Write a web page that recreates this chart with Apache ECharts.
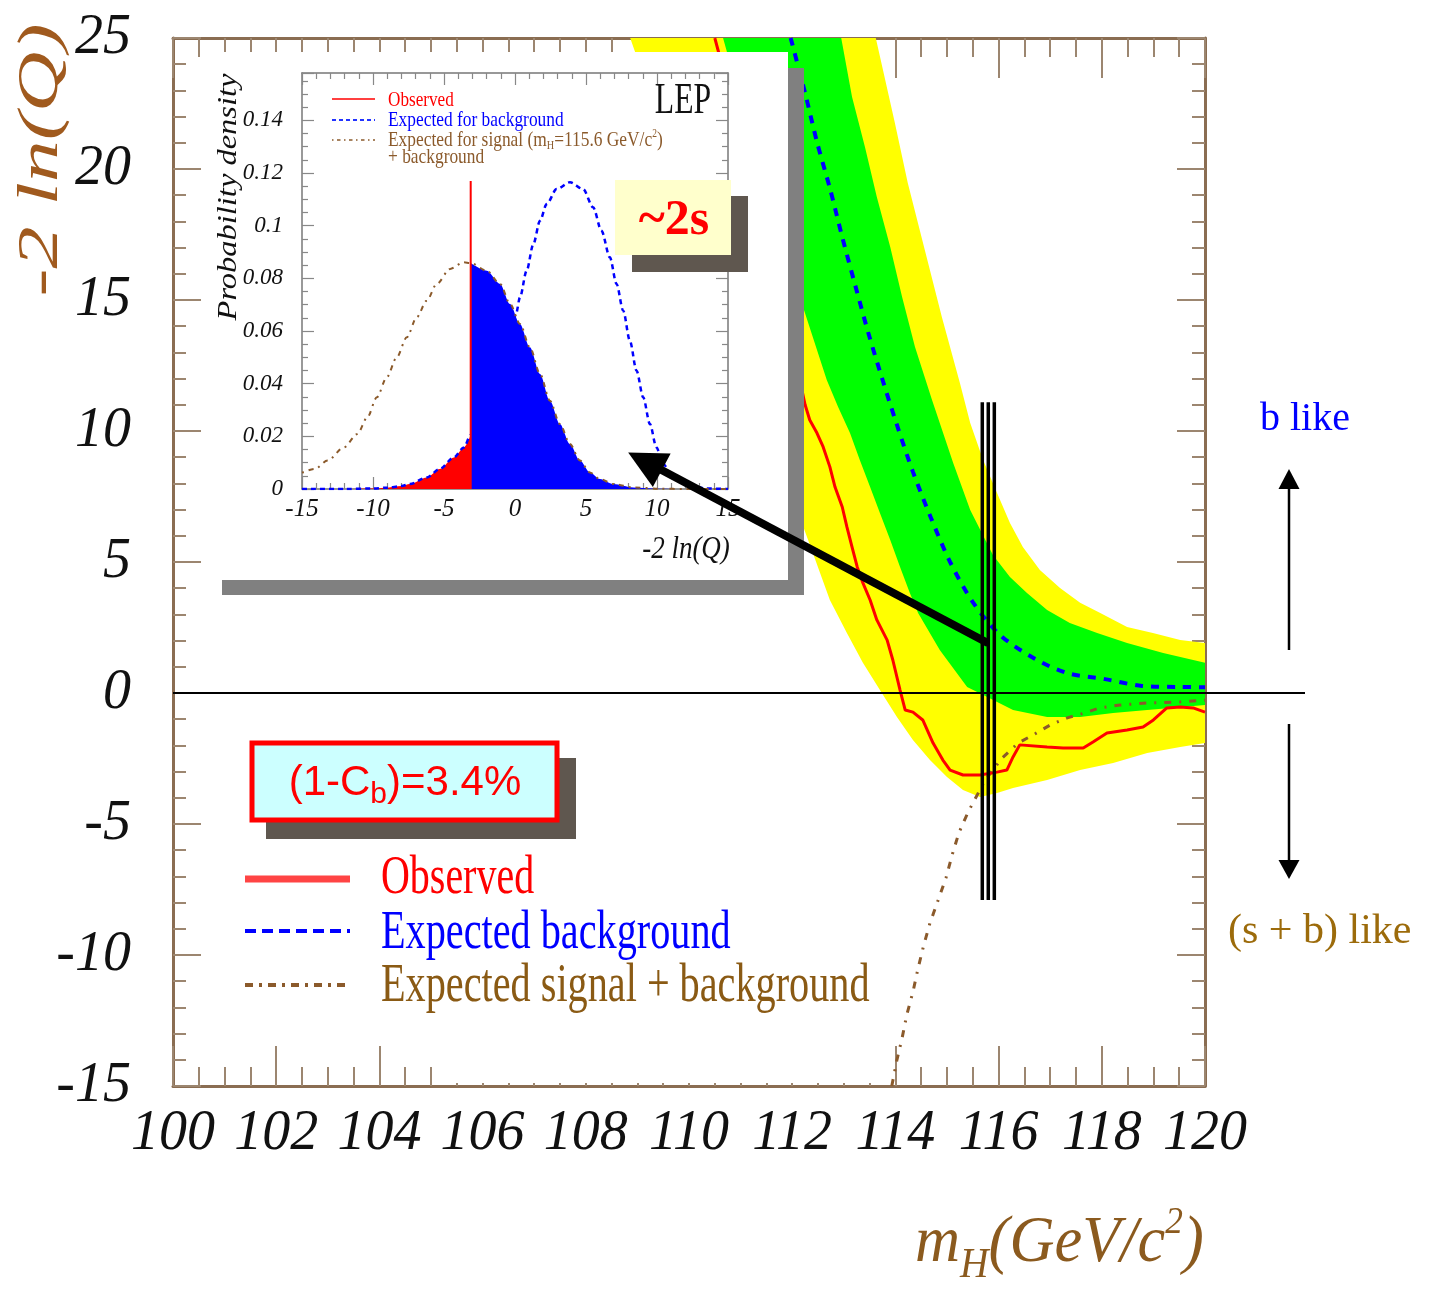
<!DOCTYPE html>
<html><head><meta charset="utf-8">
<script src="https://cdn.jsdelivr.net/npm/echarts@6/dist/echarts.min.js"></script>
<style>html,body{margin:0;padding:0;background:#fff}#c{width:1429px;height:1289px}</style>
</head><body><div id="c"></div>
<script>
// ---------------- data: main plot (-2 ln Q vs m_H) ----------------
const mainXTickLabels = ['100','102','104','106','108','110','112','114','116','118','120'];
const mainYTickLabels = ['-15','-10','-5','0','5','10','15','20','25'];

const observed = [[110.50,25.0],[111.0,21.3],[111.5,17.4],[112.0,13.3],[112.25,11.0],[112.34,10.42],[112.48,9.92],[112.60,9.39],[112.73,8.63],[112.83,7.86],[112.97,7.10],[113.06,6.34],[113.16,5.57],[113.26,4.81],[113.37,4.20],[113.51,3.55],[113.64,2.79],[113.84,2.02],[113.95,1.26],[114.09,0.11],[114.19,-0.65],[114.34,-0.73],[114.53,-1.03],[114.73,-1.91],[114.92,-2.56],[115.06,-2.94],[115.31,-3.13],[115.64,-3.13],[115.97,-3.02],[116.16,-2.94],[116.28,-2.44],[116.41,-1.98],[116.94,-2.06],[117.25,-2.10],[117.64,-2.10],[117.83,-1.87],[118.10,-1.53],[118.49,-1.41],[118.80,-1.30],[119.0,-1.03],[119.26,-0.57],[119.52,-0.53],[119.77,-0.57],[120.0,-0.73]];
const expectedBkg = [[111.97,25.0],[112.25,22.9],[112.48,21.03],[112.73,19.27],[112.97,17.4],[113.22,15.57],[113.47,13.78],[113.74,12.02],[114.03,10.23],[114.34,8.44],[114.69,6.68],[115.06,5.0],[115.50,3.47],[116.03,2.21],[116.71,1.30],[117.33,0.76],[118.06,0.53],[118.78,0.27],[119.52,0.23],[120.0,0.22]];
const expectedSigBkg = [[113.93,-15.0],[114.03,-14.0],[114.13,-13.17],[114.22,-12.29],[114.34,-11.41],[114.44,-10.50],[114.55,-9.62],[114.67,-8.78],[114.83,-7.90],[114.98,-7.06],[115.10,-6.18],[115.23,-5.34],[115.41,-4.54],[115.74,-3.32],[116.07,-2.48],[116.38,-1.91],[116.67,-1.60],[117.0,-1.22],[117.33,-0.95],[117.67,-0.76],[117.96,-0.57],[118.35,-0.46],[118.88,-0.38],[119.52,-0.34],[120.0,-0.27]];
const plus1Sigma = [[112.95,25.0],[113.16,22.75],[113.41,20.84],[113.64,18.93],[113.90,17.02],[114.13,15.11],[114.38,13.21],[114.71,11.18],[115.12,8.78],[115.45,6.98],[115.89,5.27],[116.22,4.43],[116.55,3.82],[116.94,3.17],[117.38,2.67],[117.91,2.29],[118.49,1.91],[119.19,1.53],[120.0,1.15]];
const minus1Sigma = [[110.66,25.0],[111.0,22.6],[111.5,19.1],[112.0,16.0],[112.67,11.95],[112.89,10.92],[113.12,9.92],[113.31,8.89],[113.51,7.86],[113.70,6.87],[113.90,5.84],[114.09,4.81],[114.28,3.82],[114.44,3.05],[114.86,1.64],[115.39,0.23],[115.78,-0.15],[116.28,-0.65],[116.94,-0.92],[117.58,-0.92],[118.22,-0.76],[118.88,-0.65],[120.0,-0.46]];
const plus2Sigma = [[113.62,25.0],[113.99,21.76],[114.24,19.47],[114.57,16.91],[114.90,14.35],[115.25,11.83],[115.45,10.31],[115.70,8.89],[115.97,7.63],[116.22,6.49],[116.47,5.57],[116.80,4.69],[117.19,4.01],[117.58,3.44],[117.97,3.05],[118.49,2.52],[118.99,2.29],[119.52,2.02],[120.0,1.91]];
const minus2Sigma = [[108.86,25.0],[110.0,18.6],[111.0,13.1],[112.0,7.5],[112.40,5.34],[112.73,3.55],[113.06,2.29],[113.37,1.15],[113.70,0.11],[114.03,-0.92],[114.34,-1.79],[114.67,-2.56],[115.0,-3.21],[115.31,-3.70],[115.64,-3.97],[115.97,-3.82],[116.28,-3.63],[116.94,-3.32],[117.58,-2.94],[118.22,-2.67],[118.88,-2.29],[119.52,-2.06],[120.0,-1.91]];
const markerMasses = [115.684, 115.80, 115.917];
const markerRange = [-7.9, 11.1];
const arrowFromMain = [115.80, 1.9];

// ---------------- data: inset (probability density vs -2 ln Q) ----------------
const insetXTickLabels = ['-15','-10','-5','0','5','10','15'];
const insetYTickLabels = ['0','0.02','0.04','0.06','0.08','0.1','0.12','0.14'];
const pdfBkg = [[-15,0],[-12,0],[-10,0.0002],[-9,0.0005],[-8,0.0011],[-7.4,0.0019],[-6.2,0.0044],[-5.3,0.0076],[-4.3,0.012],[-3.6,0.0158],[-3.12,0.0205],[-2.5,0.026],[-1.8,0.034],[-1,0.045],[-0.4,0.056],[0.07,0.0665],[0.35,0.0728],[0.82,0.0829],[1.29,0.093],[1.76,0.1019],[2.23,0.1082],[2.93,0.1139],[3.87,0.1165],[4.8,0.1139],[5.5,0.107],[6.09,0.0981],[6.68,0.088],[7.15,0.0779],[7.62,0.0677],[8.09,0.0563],[8.56,0.0449],[9.03,0.0348],[9.5,0.0247],[9.96,0.0158],[10.43,0.0095],[11.13,0.0044],[12.3,0.0013],[13.5,0.0002],[15,0]];
const pdfSigBkg = [[-15,0.0062],[-14.1,0.0076],[-13.2,0.0108],[-12.05,0.0158],[-11.1,0.0209],[-10.4,0.0272],[-9.73,0.0348],[-9.03,0.0424],[-8.33,0.05],[-7.62,0.0576],[-6.92,0.0652],[-6.22,0.0715],[-5.51,0.0779],[-4.57,0.0836],[-3.63,0.0861],[-3.12,0.0858],[-1.99,0.0829],[-1.05,0.0779],[-0.35,0.0703],[0.35,0.0627],[1.05,0.0538],[1.76,0.0437],[2.46,0.0335],[3.16,0.0247],[3.87,0.0171],[4.57,0.0108],[5.27,0.0063],[5.98,0.0038],[6.92,0.0019],[8.33,0.0006],[10.2,0.0001],[12,0],[15,0]];
const observedQ = -3.12;
const observedQTop = 0.117;
const arrowToInset = [7.97, 0.0139];

// ---------------- styling ----------------
const SERIF = "'Liberation Serif','DejaVu Serif',serif";
const SANS = "'Liberation Sans','DejaVu Sans',sans-serif";
const AXC = '#8a6d52', TKC = '#9c8670';
const BROWN = '#8b5a2b';

const chart = echarts.init(document.getElementById('c'), null, {renderer: 'canvas'});

function band(lo, hi, color, z) {
  const poly = lo.concat(hi.slice().reverse());
  return {
    type: 'custom', xAxisIndex: 0, yAxisIndex: 0, z: z, clip: true, silent: true,
    data: [[110, 0]],
    renderItem: function (params, api) {
      return {type: 'polygon', shape: {points: poly.map(function (p) { return api.coord(p); })}, style: {fill: color}};
    }
  };
}
function mainAxisX(pos, showLabel) {
  return {
    type: 'value', gridIndex: 0, position: pos, min: 100, max: 120, interval: 2,
    axisLine: {show: true, onZero: false, lineStyle: {color: AXC, width: 3}},
    axisTick: {show: true, inside: true, length: 40, lineStyle: {color: TKC, width: 2}},
    minorTick: {show: true, splitNumber: 4, length: 19, lineStyle: {color: TKC, width: 2}},
    splitLine: {show: false},
    axisLabel: {show: showLabel, margin: 20, color: '#111', fontSize: 56, fontStyle: 'italic', fontFamily: SERIF,
      formatter: function (v) { return mainXTickLabels[Math.round((v - 100) / 2)]; }}
  };
}
function mainAxisY(pos, showLabel) {
  return {
    type: 'value', gridIndex: 0, position: pos, min: -15, max: 25, interval: 5,
    axisLine: {show: true, onZero: false, lineStyle: {color: AXC, width: 3}},
    axisTick: {show: true, inside: true, length: 28, lineStyle: {color: TKC, width: 2}},
    minorTick: {show: true, splitNumber: 5, length: 13, lineStyle: {color: TKC, width: 2}},
    splitLine: {show: false},
    axisLabel: {show: showLabel, margin: 42, color: '#111', fontSize: 56, fontStyle: 'italic', fontFamily: SERIF,
      formatter: function (v) { return mainYTickLabels[Math.round((v + 15) / 5)]; }}
  };
}
function insetAxisX(pos, showLabel) {
  return {
    type: 'value', gridIndex: 1, position: pos, min: -15, max: 15, interval: 5, z: 20,
    axisLine: {show: true, onZero: false, lineStyle: {color: '#777', width: 1.5}},
    axisTick: {show: true, inside: true, length: 12, lineStyle: {color: '#888', width: 1.2}},
    minorTick: {show: true, splitNumber: 5, length: 6, lineStyle: {color: '#888', width: 1.2}},
    splitLine: {show: false},
    axisLabel: {show: showLabel, margin: 8, color: '#111', fontSize: 25, fontStyle: 'italic', fontFamily: SERIF,
      formatter: function (v) { return insetXTickLabels[Math.round((v + 15) / 5)]; }}
  };
}
function insetAxisY(pos, showLabel) {
  return {
    type: 'value', gridIndex: 1, position: pos, min: 0, max: 0.158, interval: 0.02, z: 20,
    axisLine: {show: true, onZero: false, lineStyle: {color: '#777', width: 1.5}},
    axisTick: {show: true, inside: true, length: 12, lineStyle: {color: '#888', width: 1.2}},
    minorTick: {show: true, splitNumber: 4, length: 6, lineStyle: {color: '#888', width: 1.2}},
    splitLine: {show: false},
    axisLabel: {show: showLabel, margin: 19, color: '#111', fontSize: 23, fontStyle: 'italic', fontFamily: SERIF, showMaxLabel: false,
      formatter: function (v) { const i = Math.round(v / 0.02); return (Math.abs(v - i * 0.02) < 1e-6) ? (insetYTickLabels[i] || '') : ''; }}
  };
}

const markerSeries = markerMasses.map(function (m) {
  return {type: 'line', xAxisIndex: 0, yAxisIndex: 0, z: 4, silent: true, symbol: 'none',
    data: [[m, markerRange[0]], [m, markerRange[1]]], lineStyle: {color: '#000', width: 3.5}};
});

const option = {
  animation: false,
  backgroundColor: '#fff',
  grid: [
    {left: 173, top: 38, width: 1032, height: 1048, show: false},
    {left: 302, top: 73, width: 426, height: 416, show: false, z: 20}
  ],
  xAxis: [mainAxisX('bottom', true), mainAxisX('top', false), insetAxisX('bottom', true), insetAxisX('top', false)],
  yAxis: [mainAxisY('left', true), mainAxisY('right', false), insetAxisY('left', true), insetAxisY('right', false)],
  series: [
    band(minus2Sigma, plus2Sigma, '#ffff00', 1),
    band(minus1Sigma, plus1Sigma, '#00ff00', 2),
    {type: 'line', name: 'Expected background', xAxisIndex: 0, yAxisIndex: 0, z: 3, symbol: 'none', data: expectedBkg, smooth: 0.3,
      lineStyle: {color: '#0000ff', width: 4, type: [8, 8]}},
    {type: 'line', name: 'Expected signal + background', xAxisIndex: 0, yAxisIndex: 0, z: 3, symbol: 'none', data: expectedSigBkg,
      lineStyle: {color: BROWN, width: 3, type: [7, 8, 2, 8]}},
    {type: 'line', name: 'Observed', xAxisIndex: 0, yAxisIndex: 0, z: 3, symbol: 'none', data: observed,
      lineStyle: {color: '#ff0000', width: 3}},
  ].concat(markerSeries).concat([
    // inset
    {type: 'line', xAxisIndex: 2, yAxisIndex: 2, z: 21, symbol: 'none', smooth: 0.3, smoothMonotone: 'x',
      data: pdfBkg.filter(function (p) { return p[0] <= observedQ; }),
      lineStyle: {width: 0}, areaStyle: {color: '#ff0000', opacity: 1, origin: 'start'}},
    {type: 'line', xAxisIndex: 2, yAxisIndex: 2, z: 21, symbol: 'none', smooth: 0.3, smoothMonotone: 'x',
      data: pdfSigBkg.filter(function (p) { return p[0] >= observedQ; }),
      lineStyle: {width: 0}, areaStyle: {color: '#0000ff', opacity: 1, origin: 'start'}},
    {type: 'line', xAxisIndex: 2, yAxisIndex: 2, z: 22, symbol: 'none', smooth: 0.3, smoothMonotone: 'x', data: pdfBkg,
      lineStyle: {color: '#0000ff', width: 2.5, type: [5, 4]}},
    {type: 'line', xAxisIndex: 2, yAxisIndex: 2, z: 22, symbol: 'none', smooth: 0.3, smoothMonotone: 'x', data: pdfSigBkg,
      lineStyle: {color: BROWN, width: 2, type: [2, 5, 5, 5]}},
    {type: 'line', xAxisIndex: 2, yAxisIndex: 2, z: 23, symbol: 'none', data: [[observedQ, 0], [observedQ, observedQTop]],
      lineStyle: {color: '#ff0000', width: 2}}
  ])
};
chart.setOption(option);

// ---------- annotations (positions derived from the axes) ----------
const P = function (pt) { return chart.convertToPixel({xAxisIndex: 0, yAxisIndex: 0}, pt); };
const Q = function (pt) { return chart.convertToPixel({xAxisIndex: 2, yAxisIndex: 2}, pt); };
const zeroL = P([100, 0]), zeroR = P([120, 0]);
const a0 = P(arrowFromMain), a1 = Q(arrowToInset);
const dx = a1[0] - a0[0], dy = a1[1] - a0[1], len = Math.sqrt(dx * dx + dy * dy);
const ux = dx / len, uy = dy / len, headL = 38, headW = 19;
const bx = a1[0] - ux * headL, by = a1[1] - uy * headL;

function txt(x, y, text, font, fill, opts) {
  opts = opts || {};
  return Object.assign({
    type: 'text', x: x, y: y, z: opts.z || 30,
    style: {text: text, font: font, fill: fill, align: opts.align || 'left', verticalAlign: 'middle',
      textAlign: opts.align || 'left', textVerticalAlign: 'middle', rich: opts.rich}
  }, opts.el || {});
}

const graphics = [
  // zero line across plot and beyond
  {type: 'line', z: 5, shape: {x1: zeroL[0], y1: zeroL[1], x2: zeroR[0] + 100, y2: zeroR[1]}, style: {stroke: '#000', lineWidth: 2}},
  // gap in bottom ticks (text box)
  {type: 'rect', z: 9, shape: {x: 433, y: 1040, width: 447, height: 43}, style: {fill: '#fff'}},
  // inset panel & shadow
  {type: 'rect', z: 10, shape: {x: 222, y: 68, width: 582, height: 527}, style: {fill: '#808080'}},
  {type: 'rect', z: 11, shape: {x: 206, y: 52, width: 582, height: 528}, style: {fill: '#fff'}},
  // ~2s box
  {type: 'rect', z: 30, shape: {x: 632, y: 196, width: 116, height: 76}, style: {fill: '#5f574f'}},
  {type: 'rect', z: 31, shape: {x: 615, y: 180, width: 116, height: 75}, style: {fill: '#ffffcc'}},
  txt(674, 221, '~2s', 'bold 50px ' + SERIF, '#ff0000', {align: 'center', z: 32}),
  // (1-Cb) box
  {type: 'rect', z: 30, shape: {x: 266, y: 758, width: 310, height: 81}, style: {fill: '#5f574f'}},
  {type: 'rect', z: 31, shape: {x: 252, y: 743, width: 305, height: 77}, style: {fill: '#ccffff', stroke: '#ff0000', lineWidth: 5}},
  txt(405, 783, '(1-C{sub|b})=3.4%', '42px ' + SANS, '#ff0000', {align: 'center', z: 32,
    rich: {sub: {fontSize: 30, fontFamily: SANS, fill: '#ff0000', color: '#ff0000', padding: [24, 0, 0, 0]}}}),
  // main legend
  {type: 'line', z: 30, shape: {x1: 245, y1: 879, x2: 350, y2: 879}, style: {stroke: '#ff4444', lineWidth: 7}},
  {type: 'line', z: 30, shape: {x1: 245, y1: 931, x2: 350, y2: 931}, style: {stroke: '#0000ff', lineWidth: 4, lineDash: [11, 6]}},
  {type: 'line', z: 30, shape: {x1: 245, y1: 985, x2: 350, y2: 985}, style: {stroke: BROWN, lineWidth: 4, lineDash: [8, 6, 3, 6]}},
  txt(381, 879, 'Observed', '54px ' + SERIF, '#ff0000', {el: {scaleX: 0.74}}),
  txt(381, 934, 'Expected background', '54px ' + SERIF, '#0000ff', {el: {scaleX: 0.745}}),
  txt(381, 987, 'Expected signal + background', '54px ' + SERIF, '#8a5a14', {el: {scaleX: 0.745}}),
  // right side annotations
  txt(1260, 419, 'b like', '40px ' + SERIF, '#0000ff'),
  txt(1228, 932, '(s + b) like', '42px ' + SERIF, '#9c6b0b'),
  {type: 'line', z: 30, shape: {x1: 1289, y1: 650, x2: 1289, y2: 486}, style: {stroke: '#000', lineWidth: 2.5}},
  {type: 'polygon', z: 30, shape: {points: [[1289, 469], [1278.5, 489], [1299.5, 489]]}, style: {fill: '#000'}},
  {type: 'line', z: 30, shape: {x1: 1289, y1: 724, x2: 1289, y2: 862}, style: {stroke: '#000', lineWidth: 2.5}},
  {type: 'polygon', z: 30, shape: {points: [[1289, 879], [1278.5, 860], [1299.5, 860]]}, style: {fill: '#000'}},
  // axis titles
  txt(42, 160, '-2 ln(Q)', 'italic 56px ' + SERIF, '#a05a1e', {align: 'center', el: {rotation: Math.PI / 2, scaleX: 1.5}}),
  txt(915, 1244, 'm{sub|H}(GeV/c{sup|2})', 'italic 60px ' + SERIF, '#8b5a1e', {el: {scaleX: 1.04, scaleY: 1.1},
    rich: {sub: {fontSize: 38, fontStyle: 'italic', fontFamily: SERIF, fill: '#8b5a1e', color: '#8b5a1e', padding: [40, 0, 0, 0]},
           sup: {fontSize: 34, fontStyle: 'italic', fontFamily: SERIF, fill: '#8b5a1e', color: '#8b5a1e', padding: [0, 0, 38, 0]}}}),
  // inset texts
  txt(229, 197, 'Probability density', 'italic 28px ' + SERIF, '#111', {align: 'center', z: 26, el: {rotation: Math.PI / 2, scaleX: 1.16}}),
  txt(686, 549, '-2 ln(Q)', 'italic 27px ' + SERIF, '#111', {align: 'center', z: 26, el: {scaleY: 1.2}}),
  txt(683, 101, 'LEP', '44px ' + SERIF, '#111', {align: 'center', z: 26, el: {scaleX: 0.72}}),
  {type: 'line', z: 26, shape: {x1: 332, y1: 99, x2: 375, y2: 99}, style: {stroke: '#ff0000', lineWidth: 1.5}},
  {type: 'line', z: 26, shape: {x1: 332, y1: 120, x2: 375, y2: 120}, style: {stroke: '#2233ff', lineWidth: 2, lineDash: [4, 3]}},
  {type: 'line', z: 26, shape: {x1: 332, y1: 140, x2: 375, y2: 140}, style: {stroke: BROWN, lineWidth: 1.5, lineDash: [1.5, 3.5, 3.5, 3.5]}},
  txt(388, 100, 'Observed', '22px ' + SERIF, '#ff0000', {z: 26, el: {scaleX: 0.78}}),
  txt(388, 120, 'Expected for background', '22px ' + SERIF, '#0000ff', {z: 26, el: {scaleX: 0.79}}),
  txt(388, 140, 'Expected for signal (m{sub|H}=115.6 GeV/c{sup|2})', '22px ' + SERIF, BROWN, {z: 26, el: {scaleX: 0.79},
    rich: {sub: {fontSize: 13, fontFamily: SERIF, fill: BROWN, color: BROWN, padding: [12, 0, 0, 0]},
           sup: {fontSize: 12, fontFamily: SERIF, fill: BROWN, color: BROWN, padding: [0, 0, 12, 0]}}}),
  txt(388, 157, '+ background', '22px ' + SERIF, BROWN, {z: 26, el: {scaleX: 0.79}}),
  // big arrow from observed mass to inset
  {type: 'line', z: 40, shape: {x1: a0[0], y1: a0[1], x2: bx + ux * 4, y2: by + uy * 4}, style: {stroke: '#000', lineWidth: 8}},
  {type: 'polygon', z: 40, shape: {points: [[a1[0], a1[1]], [bx - uy * headW, by + ux * headW], [bx + uy * headW, by - ux * headW]]}, style: {fill: '#000'}}
];
chart.setOption({graphic: graphics});
</script>
</body></html>
